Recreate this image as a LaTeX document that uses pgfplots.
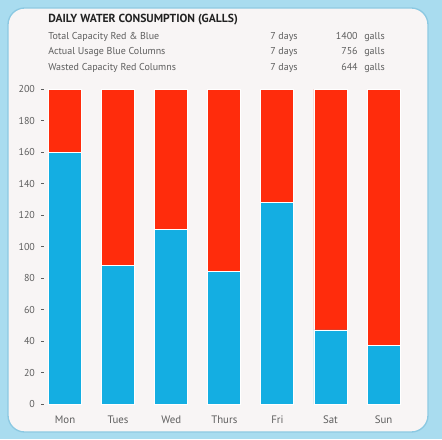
\documentclass[border=0pt]{standalone}
\usepackage{pgfplots}
\pgfplotsset{compat=1.18}
\usepackage{fontspec}
\setmainfont{PT Sans}
\definecolor{bgblue}{HTML}{A9DCEF}
\definecolor{panelc}{HTML}{F8F5F5}
\definecolor{edgec}{HTML}{8CC9E2}
\definecolor{barblue}{HTML}{14AEE2}
\definecolor{barred}{HTML}{FF2C0C}
\definecolor{txt}{HTML}{5E5E5E}
\definecolor{titlec}{HTML}{222222}
\begin{document}
\begin{tikzpicture}[x=0.6pt,y=0.6pt]
\fill[bgblue] (0,0) rectangle (442,439);
\filldraw[fill=panelc, draw=edgec, line width=0.8pt, rounded corners=10pt] (8,7) rectangle (428,431);
\begin{axis}[
  at={(26.28pt,21pt)}, anchor=south west,
  scale only axis, width=216.6pt, height=189pt,
  xmin=-0.4, xmax=6.4, ymin=0, ymax=200,
  ybar stacked, bar width=19.8pt,
  axis line style={draw=none},
  ytick={0,20,...,200},
  ytick pos=left, tick align=outside,
  major tick length=1.8pt,
  ytick style={draw=txt, line width=0.4pt},
  xtick={0,...,6},
  xticklabels={Mon,Tues,Wed,Thurs,Fri,Sat,Sun},
  xtick style={draw=none},
  /pgf/number format/assume math mode=true,
  yticklabel style={font=\fontsize{6}{7}\selectfont, text=txt},
  xticklabel style={font=\fontsize{6.5}{7}\selectfont, text=txt, yshift=-2pt},
]
\addplot[fill=barblue, draw=white, line width=0.5pt] coordinates {(0,160) (1,88) (2,111) (3,84) (4,128) (5,47) (6,37)};
\addplot[fill=barred, draw=white, line width=0.5pt] coordinates {(0,40) (1,112) (2,89) (3,116) (4,72) (5,153) (6,163)};
\end{axis}
\node[anchor=mid west, inner sep=0, font=\bfseries\fontsize{7}{8}\selectfont, text=titlec] at (48,420.7) {DAILY WATER CONSUMPTION (GALLS)};
\begin{scope}[every node/.style={inner sep=0, font=\fontsize{6}{7}\selectfont, text=txt}]
\node[anchor=mid west] at (48,404) {Total Capacity Red \& Blue};
\node[anchor=mid west] at (48,389) {Actual Usage Blue Columns};
\node[anchor=mid west] at (48,372.3) {Wasted Capacity Red Columns};
\node[anchor=mid east] at (298,404) {7 days};
\node[anchor=mid east] at (298,389) {7 days};
\node[anchor=mid east] at (298,372.3) {7 days};
\node[anchor=mid east] at (358,404) {1400};
\node[anchor=mid east] at (358,389) {756};
\node[anchor=mid east] at (358,372.3) {644};
\node[anchor=mid west] at (364,404) {galls};
\node[anchor=mid west] at (364,389) {galls};
\node[anchor=mid west] at (364,372.3) {galls};
\end{scope}
\end{tikzpicture}
\end{document}
